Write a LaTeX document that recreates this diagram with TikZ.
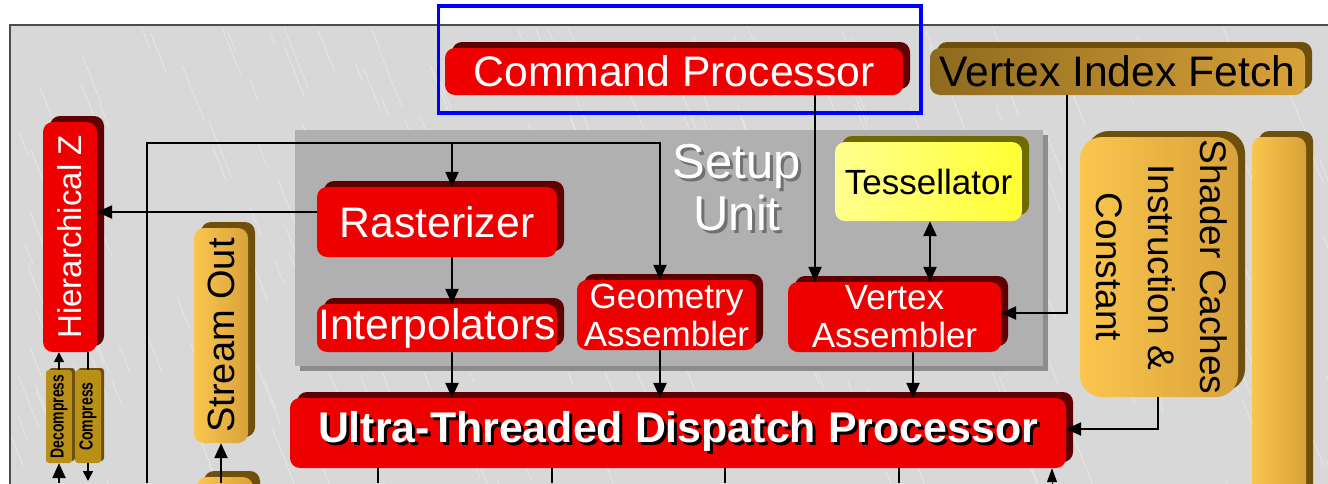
\documentclass[tikz,border=0pt]{standalone}
\usepackage{fontspec}
\usepackage{graphicx}
\setmainfont{Liberation Sans}
\usetikzlibrary{arrows.meta,shadows}

\definecolor{cpred}{HTML}{EE0000}
\definecolor{cpshade}{HTML}{5E0000}
\definecolor{goldlt}{HTML}{FAC64E}
\definecolor{goldmd}{HTML}{D9A23A}
\definecolor{golddk}{HTML}{8E6A1E}
\definecolor{goldshade}{HTML}{6E500C}
\definecolor{cyllt}{HTML}{F4D44A}
\definecolor{cyldk}{HTML}{B89018}
\definecolor{tessyel}{HTML}{FFFF33}
\definecolor{tessshade}{HTML}{6E6A00}
\definecolor{setupgray}{HTML}{B0B0B0}
\definecolor{setupsh}{HTML}{707070}
\definecolor{metal}{HTML}{D8D8D8}

\newcommand{\shadowtxt}[2]{\rlap{\kern3pt\raisebox{-3pt}{\color{#1}#2}}#2}
\newcommand{\bigtxt}{\fontsize{42.7}{46}\selectfont}
\newcommand{\midtxt}{\fontsize{35}{38}\selectfont}

\tikzset{
  blk/.style={inner sep=0pt, rounded corners=10pt},
  redblk/.style={blk, fill=cpred, text=white,
    drop shadow={shadow xshift=7pt,shadow yshift=6pt,fill=cpshade,opacity=1}},
  goldblk/.style={blk, left color=goldlt, right color=goldmd, text=black,
    drop shadow={shadow xshift=7pt,shadow yshift=6pt,fill=goldshade,opacity=1}},
  cylblk/.style={inner sep=0pt, rounded corners=3pt, left color=cyldk, middle color=cyllt,
    right color=cyldk, text=black, font=\fontsize{14}{14}\selectfont\bfseries,
    drop shadow={shadow xshift=3pt,shadow yshift=2pt,fill=goldshade,opacity=1}},
  wire/.style={line width=2.4pt},
  tip/.tip={Triangle[length=15pt,width=13pt]},
  arr/.style={wire, -tip},
}

\begin{document}
\begin{tikzpicture}[x=1pt,y=-1pt]
\useasboundingbox (0,0) rectangle (1328,483);
\begin{scope}
\clip (0,0) rectangle (1328,483);

% brushed metal panel
\fill[metal] (10,25) rectangle (1340,500);
\pgfmathsetseed{11}
\foreach \k in {1,...,320}{
  \pgfmathsetmacro\sx{10+rnd*1330}
  \pgfmathsetmacro\sy{25+rnd*470}
  \pgfmathsetmacro\sl{15+rnd*45}
  \draw[white, opacity=0.55, line width=0.5pt] (\sx,\sy) -- ++(0.4*\sl,\sl);
}
\draw[line width=2pt, black!70] (10,500) -- (10,25) -- (1340,25);

% Setup Unit
\node[inner sep=0pt, fill=setupgray, minimum width=748pt, minimum height=236pt,
  drop shadow={shadow xshift=5pt,shadow yshift=-5pt,fill=black!45,opacity=1}] (setup) at (669,248) {};
\node[font=\fontsize{49}{52}\selectfont, text=white, align=center] (setuplbl) at (737,189)
  {\shadowtxt{setupsh}{Setup}\\\shadowtxt{setupsh}{Unit}};

% top row
\node[redblk, minimum width=458pt, minimum height=47pt, font=\bigtxt] (cmdproc) at (674,71.5) {Command Processor};
\node[goldblk, left color=golddk, middle color=goldlt, right color=goldmd,
  minimum width=375pt, minimum height=47pt, font=\bigtxt] (vif) at (1117.5,71.5) {Vertex Index Fetch};
\draw[blue, line width=3.5pt] (438.5,6) rectangle (921,113);

% left column
\node[redblk, minimum width=54pt, minimum height=230pt, font=\fontsize{33}{36}\selectfont] (hierz) at (70,237)
  {\rotatebox{90}{Hierarchical Z}};
\node[cylblk, minimum width=26pt, minimum height=93pt] (decomp) at (59,416.5)
  {\rotatebox{90}{\scalebox{1}[1.35]{Decompress}}};
\node[cylblk, minimum width=26pt, minimum height=93pt] (comp) at (88,416.5)
  {\rotatebox{90}{\scalebox{1}[1.35]{Compress}}};
\node[goldblk, minimum width=54pt, minimum height=215pt, font=\fontsize{38}{40}\selectfont] (streamout) at (221,335.5)
  {\rotatebox{90}{Stream Out}};
\node[goldblk, minimum width=56pt, minimum height=34pt] (streamsrc) at (225,494) {};

% setup unit blocks
\node[redblk, minimum width=240pt, minimum height=70pt, font=\bigtxt] (raster) at (437,222) {Rasterizer};
\node[redblk, minimum width=240pt, minimum height=48pt, font=\bigtxt] (interp) at (437,328) {Interpolators};
\node[redblk, minimum width=179pt, minimum height=70pt, font=\midtxt, align=center] (geoasm) at (666.5,315)
  {Geometry\\Assembler};
\node[redblk, minimum width=213pt, minimum height=70pt, font=\midtxt, align=center] (vtxasm) at (894.5,317)
  {Vertex\\Assembler};
\node[blk, left color=tessyel!55!white, right color=tessyel, text=black, font=\midtxt,
  minimum width=187pt, minimum height=79pt,
  drop shadow={shadow xshift=7pt,shadow yshift=6pt,fill=tessshade,opacity=1}] (tess) at (928.5,181.5) {Tessellator};

% right side
\node[goldblk, rounded corners=22pt, minimum width=158pt, minimum height=260pt,
  font=\fontsize{37}{52}\selectfont] (shcache) at (1159,267)
  {\rotatebox{-90}{\begin{tabular}{@{}c@{}}Shader Caches\\Instruction \&\\Constant\end{tabular}}};
\node[goldblk, minimum width=54pt, minimum height=383pt] (rcol) at (1279,328.5) {};

% dispatch
\node[redblk, minimum width=776pt, minimum height=70pt, font=\fontsize{42.9}{46}\selectfont\bfseries] (utdp) at (678,433)
  {\shadowtxt{black}{Ultra-Threaded Dispatch Processor}};

% tap points
\coordinate (busL) at (147,143);
\coordinate (busR) at (660,143);
\coordinate (busB) at (147,483);
\coordinate (rasx) at (452,0);
\coordinate (cpx) at (815,0);
\coordinate (tsx) at (930,0);
\coordinate (vax) at (913,0);
\coordinate (vifx) at (1067,313);
\coordinate (scx) at (1158,429);
\coordinate (rzy) at (0,212);
\coordinate (cmpend) at (88,481);

% connectors
\draw[arr] (busB) -- (busL) -- (busR) -- (busR |- geoasm.north);
\draw[arr] (rasx |- busL) -- (rasx |- raster.north);
\draw[arr] (rzy -| raster.west) -- (rzy -| hierz.east);
\draw[arr] (rasx |- raster.south) -- (rasx |- interp.north);
\draw[arr] (rasx |- interp.south) -- (rasx |- utdp.north);
\draw[arr] (busR |- geoasm.south) -- (busR |- utdp.north);
\draw[arr] (vax |- vtxasm.south) -- (vax |- utdp.north);
\draw[arr] (cpx |- cmdproc.south) -- (cpx |- vtxasm.north);
\draw[wire, tip-tip] (tsx |- tess.south) -- (tsx |- vtxasm.north);
\draw[arr] (vifx |- vif.south) -- (vifx) -- (vifx -| vtxasm.east);
\draw[arr] (scx |- shcache.south) -- (scx) -- (scx -| utdp.east);
\draw[arr] (decomp.south |- busB) -- (decomp.south);
\draw[wire, line width=1.8pt, -{Triangle[length=10pt,width=10pt]}] (decomp.north) -- (decomp.north |- hierz.south);
\draw[wire, line width=1.8pt] (comp.north |- hierz.south) -- (comp.north);
\draw[wire, line width=1.8pt, -{Triangle[length=10pt,width=10pt]}] (comp.south) -- (cmpend);
\draw[arr] (streamout.south |- busB) -- (streamout.south);
\foreach \x in {378,552,725,899}
  \draw[wire] (\x,0 |- utdp.south) -- (\x,483);
\draw[line width=1pt, -{Triangle[length=14pt,width=10pt]}] (1052,500) -- (1052,0 |- utdp.south);
\end{scope}
\end{tikzpicture}
\end{document}
